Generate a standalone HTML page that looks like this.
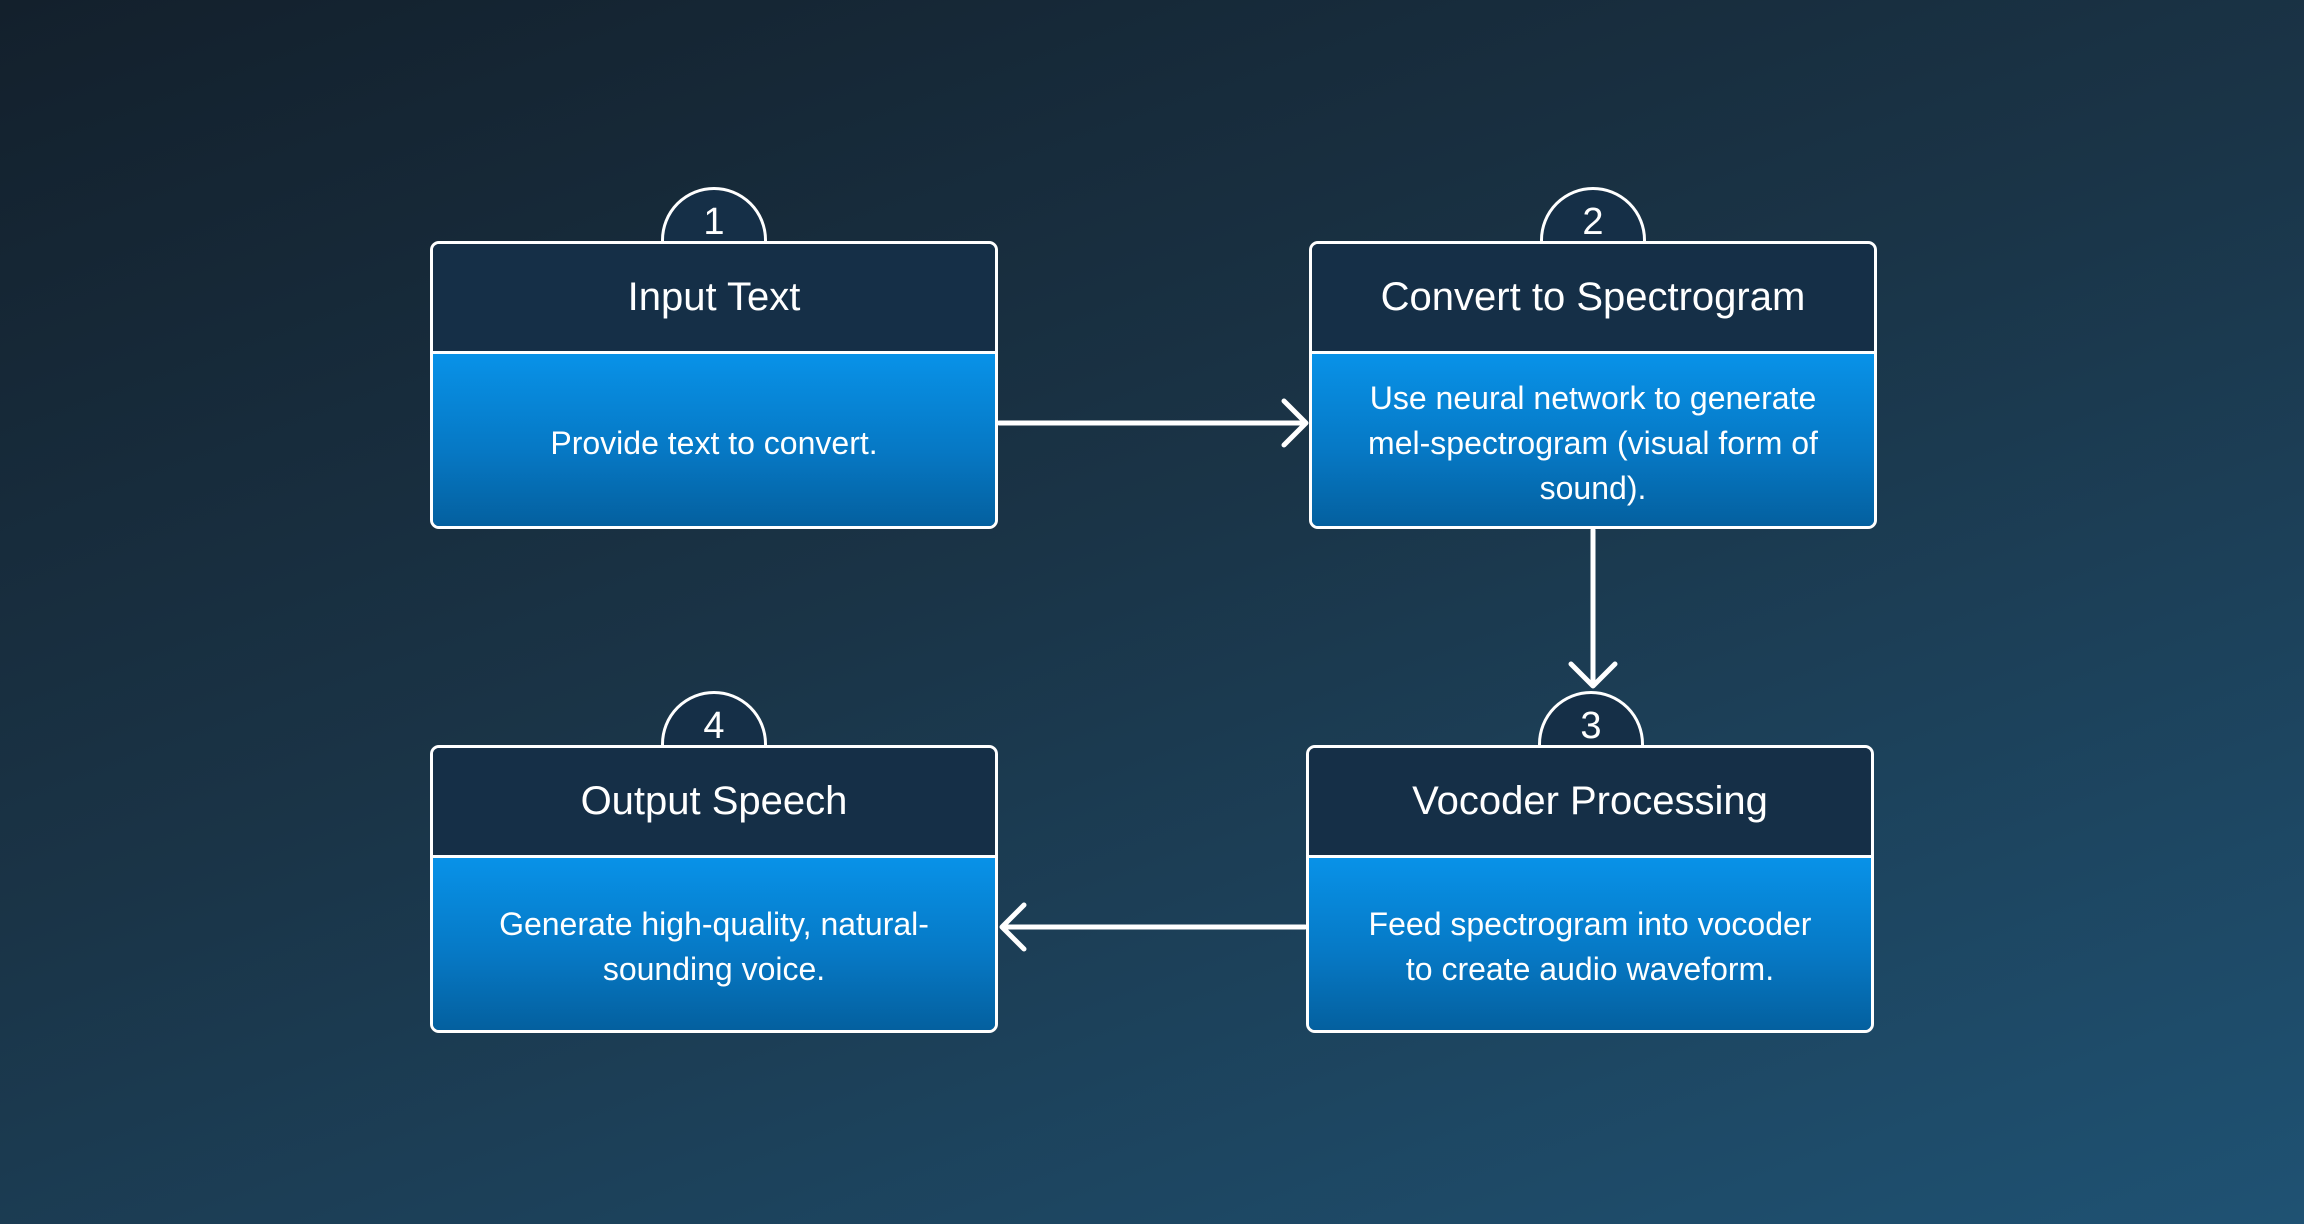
<!DOCTYPE html>
<html><head><meta charset="utf-8"><style>
html,body{margin:0;padding:0}
body{width:2304px;height:1224px;position:relative;overflow:hidden;font-family:"Liberation Sans",sans-serif;
background:linear-gradient(160deg,#13202c 0%,#1a3447 45%,#1f5273 100%)}
.box{position:absolute;width:568px;height:288px;border:3px solid #fff;border-radius:9px;box-sizing:border-box;overflow:hidden}
.hd{height:107px;background:#152f47;color:#fff;font-size:40px;display:flex;align-items:center;justify-content:center;border-bottom:3px solid #fff}
.bd{height:178px;background:linear-gradient(180deg,#0892e8 0%,#0678c4 55%,#045e9c 100%);color:#fff;font-size:32px;line-height:45px;display:flex;align-items:center;justify-content:center;text-align:center;padding:0 10px;box-sizing:border-box;white-space:nowrap}
.num{position:absolute;width:106px;height:106px;border:3px solid #fff;border-radius:50%;box-sizing:border-box;background:#152f47;color:#fff;font-size:38px;text-align:center;line-height:64px}
.numwrap{position:absolute;width:112px;height:56px;overflow:hidden}
</style></head><body>
<div class="numwrap" style="left:658px;top:186px"><div class="num" style="left:3px;top:1px">1</div></div>
<div class="numwrap" style="left:1537px;top:186px"><div class="num" style="left:3px;top:1px">2</div></div>
<div class="numwrap" style="left:1535px;top:690px"><div class="num" style="left:3px;top:1px">3</div></div>
<div class="numwrap" style="left:658px;top:690px"><div class="num" style="left:3px;top:1px">4</div></div>

<div class="box" style="left:430px;top:241px"><div class="hd">Input Text</div><div class="bd">Provide text to convert.</div></div>
<div class="box" style="left:1309px;top:241px"><div class="hd">Convert to Spectrogram</div><div class="bd">Use neural network to generate<br>mel-spectrogram (visual form of<br>sound).</div></div>
<div class="box" style="left:1306px;top:745px"><div class="hd">Vocoder Processing</div><div class="bd">Feed spectrogram into vocoder<br>to create audio waveform.</div></div>
<div class="box" style="left:430px;top:745px"><div class="hd">Output Speech</div><div class="bd">Generate high-quality, natural-<br>sounding voice.</div></div>

<svg width="2304" height="1224" style="position:absolute;left:0;top:0" fill="none" stroke="#fff" stroke-width="5" stroke-linecap="round" stroke-linejoin="round">
<path d="M999 423 H1305 M1284 401 L1306 423 L1284 445"/>
<path d="M1593 530 V686 M1571 664 L1593 686 L1615 664"/>
<path d="M1305 927 H1002 M1024 905 L1002 927 L1024 949"/>
</svg>
</body></html>
